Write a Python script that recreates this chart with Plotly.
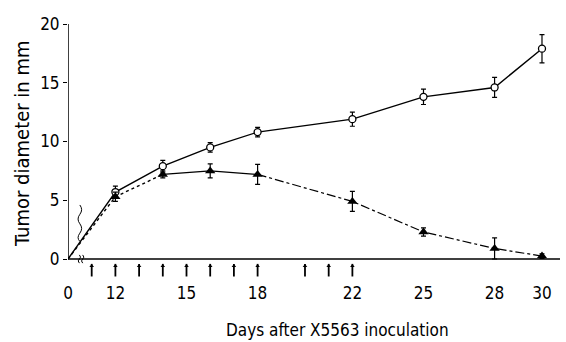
import plotly.graph_objects as go

# Data
days = [10, 12, 14, 16, 18, 22, 25, 28, 30]          # day 10 position is drawn as "0" (broken axis)
ctrl_vals = [0, 5.7, 7.9, 9.5, 10.8, 11.9, 13.8, 14.6, 17.9]
ctrl_err = [0, 0.5, 0.5, 0.4, 0.4, 0.6, 0.65, 0.85, 1.2]
treat_vals = [0, 5.3, 7.2, 7.5, 7.2, 4.9, 2.3, 0.9, 0.25]
treat_err = [0, 0.4, 0.3, 0.6, 0.85, 0.85, 0.35, 0.9, 0.2]
inj_days = [11, 12, 13, 14, 15, 16, 17, 18, 20, 21, 22]
tick_vals = [10, 12, 15, 18, 22, 25, 28, 30]
tick_text = ["0", "12", "15", "18", "22", "25", "28", "30"]
y_ticks = [0, 5, 10, 15, 20]
X_MAX = 30.76
Y_MIN = -1.53

FONT = "DejaVu Sans Condensed, Liberation Sans Narrow, sans-serif"
fig = go.Figure()

# axes drawn as lines (x axis at y=0, y axis from 0 to 20)
fig.add_shape(type="line", x0=days[0], x1=X_MAX, y0=0, y1=0, xref="x", yref="y",
              line=dict(color="black", width=1.5))
fig.add_shape(type="line", x0=days[0], x1=days[0], y0=0, y1=y_ticks[-1], xref="x", yref="y",
              line=dict(color="black", width=1.5))

# control (open circles, solid)
fig.add_trace(go.Scatter(
    x=days, y=ctrl_vals, mode="lines", line=dict(color="black", width=1.4),
    showlegend=False, hoverinfo="skip"))
fig.add_trace(go.Scatter(
    x=days[1:], y=ctrl_vals[1:], mode="markers",
    marker=dict(symbol="circle", size=7, color="white", line=dict(color="black", width=1.3)),
    error_y=dict(type="data", array=ctrl_err[1:], color="black", thickness=1.2, width=2.5),
    showlegend=False))

# treated (filled triangles) - dotted, solid, dash-dot segments
fig.add_trace(go.Scatter(x=days[0:3], y=treat_vals[0:3], mode="lines",
                         line=dict(color="black", width=1.4, dash="dot"), showlegend=False))
fig.add_trace(go.Scatter(x=days[2:5], y=treat_vals[2:5], mode="lines",
                         line=dict(color="black", width=1.3), showlegend=False))
fig.add_trace(go.Scatter(x=days[4:], y=treat_vals[4:], mode="lines",
                         line=dict(color="black", width=1.2, dash="dashdot"), showlegend=False))
fig.add_trace(go.Scatter(
    x=days[1:], y=treat_vals[1:], mode="markers",
    marker=dict(symbol="triangle-up", size=9, color="black"),
    error_y=dict(type="data", array=treat_err[1:], color="black", thickness=1.2, width=2.5),
    showlegend=False, cliponaxis=False))

# injection arrows below x axis
fig.add_trace(go.Scatter(x=inj_days, y=[-0.95] * len(inj_days), mode="markers",
                         marker=dict(symbol="line-ns", size=9, line=dict(color="black", width=1.8)),
                         showlegend=False))
fig.add_trace(go.Scatter(x=inj_days, y=[-0.6] * len(inj_days), mode="markers",
                         marker=dict(symbol="triangle-up", size=4, color="black"),
                         showlegend=False))

# axis break marks
fig.add_shape(type="path",
              path="M 10.5,4.6 Q 10.65,4.2 10.5,3.8 Q 10.35,3.4 10.5,3.0 Q 10.65,2.6 10.5,2.2 Q 10.35,1.8 10.5,1.5",
              line=dict(color="black", width=1), xref="x", yref="y")
fig.add_shape(type="path",
              path="M 10.48,0.35 Q 10.58,0.15 10.48,0 Q 10.38,-0.15 10.48,-0.35",
              line=dict(color="black", width=1), xref="x", yref="y")
fig.add_shape(type="path",
              path="M 10.62,0.35 Q 10.72,0.15 10.62,0 Q 10.52,-0.15 10.62,-0.35",
              line=dict(color="black", width=1), xref="x", yref="y")

# titles (paper coords are relative to the plot area)
fig.add_annotation(text="Days after X5563 inoculation", x=0.547, y=-0.209, xref="paper", yref="paper",
                   xanchor="center", yanchor="middle", showarrow=False,
                   font=dict(size=17, family=FONT, color="black"))
fig.add_annotation(text="Tumor diameter in mm", x=-0.0935, y=0.526, xref="paper", yref="paper",
                   xanchor="center", yanchor="middle", showarrow=False, textangle=-90,
                   font=dict(size=20, family=FONT, color="black"))

fig.update_layout(
    width=566, height=342,
    margin=dict(l=68, r=6, t=24, b=65, autoexpand=False),
    paper_bgcolor="white", plot_bgcolor="white",
    font=dict(family=FONT, color="black", size=16),
    xaxis=dict(range=[days[0], X_MAX], tickvals=tick_vals, ticktext=tick_text,
               showgrid=False, zeroline=False, showline=False,
               ticks="", ticklabelstandoff=4, tickfont=dict(size=17, family=FONT)),
    yaxis=dict(range=[Y_MIN, 20], tickvals=y_ticks, showgrid=False, zeroline=False,
               showline=False,
               ticks="outside", ticklen=4, tickcolor="black", tickwidth=1.3,
               tickfont=dict(size=17, family=FONT)),
)

fig.write_html("out.html")
